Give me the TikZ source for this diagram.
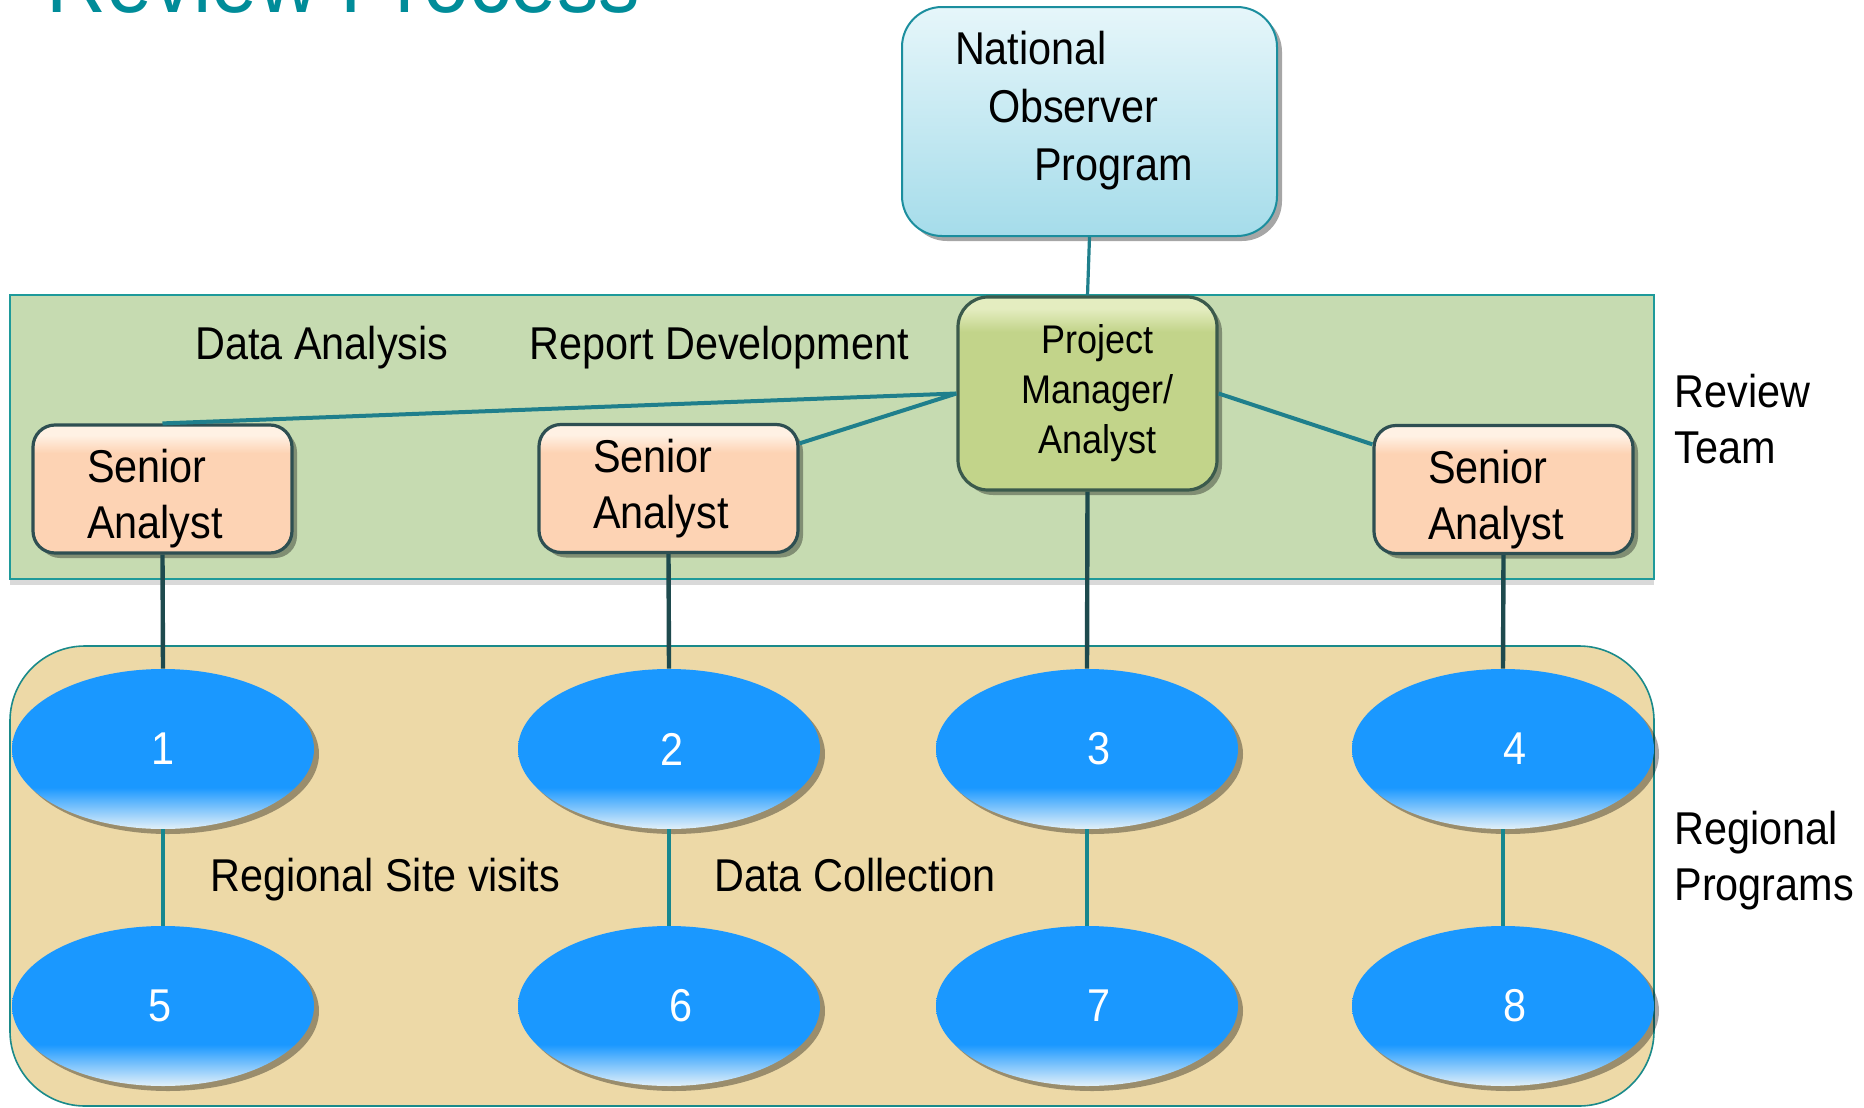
\documentclass[tikz,border=0pt]{standalone}
\usepackage{fontspec}
\setmainfont{Liberation Sans}[FakeStretch=0.9]
\usetikzlibrary{shapes.geometric,shadows,positioning}

\definecolor{titleteal}{HTML}{008C99}
\definecolor{noptop}{HTML}{E6F6FA}
\definecolor{nopbottom}{HTML}{A5DCEA}
\definecolor{nopborder}{HTML}{1B8E9E}
\definecolor{bandgreen}{HTML}{C6DBB1}
\definecolor{bandborder}{HTML}{1E9A9A}
\definecolor{regiontan}{HTML}{EDD9A7}
\definecolor{regionborder}{HTML}{1A8A8A}
\definecolor{pmfill}{HTML}{C2D48A}
\definecolor{pmtop}{HTML}{E4EDC0}
\definecolor{pmborder}{HTML}{3B5A4C}
\definecolor{seniorfill}{HTML}{FDD3B4}
\definecolor{seniortop}{HTML}{FFF1E4}
\definecolor{seniorborder}{HTML}{2E4F52}
\definecolor{ovalblue}{HTML}{1A98FF}
\definecolor{ovallight}{HTML}{E2F0F9}
\definecolor{linkteal}{HTML}{1F7F8C}
\definecolor{downdark}{HTML}{1E4A4E}
\definecolor{siteteal}{HTML}{17878F}

\pgfdeclareverticalshading{ovalfade}{100bp}{color(0bp)=(ovallight); color(25bp)=(ovallight); color(38bp)=(ovalblue); color(100bp)=(ovalblue)}
\pgfdeclareverticalshading{peachgloss}{100bp}{color(0bp)=(seniorfill); color(64bp)=(seniorfill); color(71bp)=(seniortop); color(100bp)=(seniortop)}
\pgfdeclareverticalshading{olivegloss}{100bp}{color(0bp)=(pmfill); color(66bp)=(pmfill); color(72bp)=(pmtop); color(100bp)=(pmtop)}

\begin{document}
\begin{tikzpicture}[x=0.5pt,y=-0.5pt,
    every node/.style={font=\fontsize{23}{28}\selectfont, inner sep=0pt},
    softshadow/.style={drop shadow={shadow xshift=2.5pt, shadow yshift=-2.5pt, opacity=0.35, fill=black}},
    programbox/.style={draw=nopborder, line width=1pt, rounded corners=20pt, top color=noptop, bottom color=nopbottom, minimum width=187.5pt, minimum height=114.5pt, text width=134.5pt, align=left, font=\fontsize{23}{29}\selectfont, execute at end node={\rule[-15.6pt]{0pt}{15.6pt}}, softshadow},
    managerbox/.style={draw=pmborder, line width=1.6pt, rounded corners=15pt, shade, shading=olivegloss, minimum width=129.5pt, minimum height=96.5pt, align=center, font=\fontsize{20}{25}\selectfont, softshadow},
    seniorbox/.style={draw=seniorborder, line width=1.6pt, rounded corners=11pt, shade, shading=peachgloss, minimum width=129.5pt, minimum height=64pt, text width=75.5pt, align=left, softshadow},
    lowtext/.style={execute at begin node={\rule{0pt}{26.3pt}}},
    siteoval/.style={ellipse, shade, shading=ovalfade, minimum width=151pt, minimum height=80pt, text=white, softshadow},
    toplink/.style={draw=linkteal, line width=1.6pt},
    teamlink/.style={draw=linkteal, line width=2pt},
    downlink/.style={draw=downdark, line width=2.2pt},
    sitelink/.style={draw=siteteal, line width=2.2pt}]
    \useasboundingbox (0,0) rectangle (1864,1108);

    \node[anchor=base west, text=titleteal, font=\fontsize{46}{46}\selectfont] (title) at (46,12) {Review Process};

    \fill[bandgreen, draw=bandborder, line width=0.8pt, drop shadow={shadow xshift=0pt, shadow yshift=-3pt, opacity=0.15, fill=black}] (10,295) rectangle (1654,579);
    \path[draw=regionborder, fill=regiontan, rounded corners=37.5pt, line width=0.8pt] (10,646) rectangle (1654,1106);

    \node[programbox] (nop) at (1089.5,121.5) {National\\\hspace*{16.5pt}Observer\\\hspace*{39.5pt}Program};
    \node[managerbox] (pm) at (1087.5,393.5) {\hspace*{10pt}Project\\\hspace*{10pt}Manager/\\\hspace*{10pt}Analyst};
    \node[seniorbox, lowtext] (sa1) at (162.5,489) {Senior\\Analyst};
    \node[seniorbox] (sa2) at (668.5,488.5) {Senior\\Analyst};
    \node[seniorbox, lowtext] (sa3) at (1503.5,489.5) {Senior\\Analyst};

    \foreach \n/\x/\y/\dx in {1/163/749/0, 2/669/749/3, 3/1087/749/12, 4/1503/749/12, 5/163/1006/-3, 6/669/1006/12, 7/1087/1006/12, 8/1503/1006/12}
        \node[siteoval] (site\n) at (\x,\y) {\hspace*{\dx pt}\n};

    \node[anchor=base west] (analysis) at (195,359) {Data Analysis};
    \node[anchor=base west] (report) at (529,359) {Report Development};
    \node[anchor=base west] (visits) at (210,891) {Regional Site visits};
    \node[anchor=base west] (collection) at (714,891) {Data Collection};
    \node[anchor=west, align=left] (team) at (1674,419) {Review\\Team};
    \node[anchor=west, align=left] (regional) at (1674,861) {Regional\\Programs};

    \draw[toplink] (nop.south) -- (pm.north);
    \draw[teamlink] (pm.west) -- (sa1.north);
    \draw[teamlink] (pm.west) -- (sa2.19);
    \draw[teamlink] (pm.east) -- (sa3.161);
    \draw[downlink] (sa1.south) -- (site1.north);
    \draw[downlink] (sa2.south) -- (site2.north);
    \draw[downlink] (pm.south) -- (site3.north);
    \draw[downlink] (sa3.south) -- (site4.north);
    \foreach \a/\b in {1/5,2/6,3/7,4/8}
        \draw[sitelink] (site\a.south) -- (site\b.north);
\end{tikzpicture}
\end{document}
